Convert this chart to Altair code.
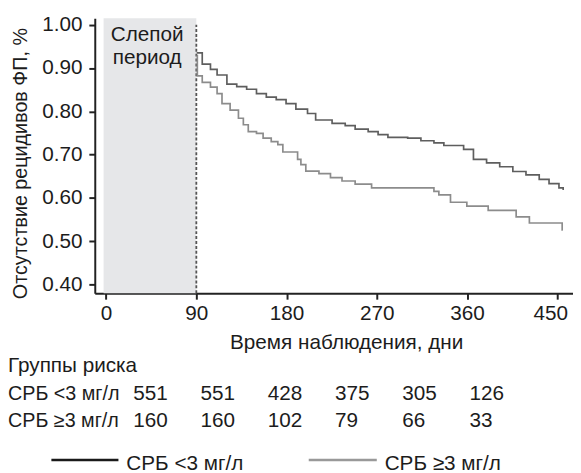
import altair as alt
import pandas as pd

# ---------------- data ----------------
upper_days = [90.3, 91.0, 95.9, 104.1, 110.7, 120.5, 130.3, 140.2, 150.0, 159.8, 169.7,
              179.5, 189.3, 200.9, 209.0, 225.4, 238.5, 248.4, 261.4, 271.3, 281.1,
              300.8, 314.0, 327.0, 336.9, 346.7, 356.6, 366.4, 379.5, 392.6, 405.7,
              418.8, 432.0, 441.8, 451.7, 455.9]
upper_vals = [0.935, 0.935, 0.909, 0.897, 0.884, 0.863, 0.857, 0.851, 0.841, 0.833, 0.827,
              0.818, 0.805, 0.795, 0.780, 0.772, 0.767, 0.759, 0.753, 0.746, 0.740,
              0.738, 0.732, 0.727, 0.721, 0.721, 0.712, 0.689, 0.681, 0.672, 0.661,
              0.653, 0.643, 0.633, 0.623, 0.618]

lower_days = [90.3, 91.0, 95.9, 104.1, 110.7, 115.6, 123.7, 132.0, 136.9, 141.8, 150.0,
              156.6, 164.7, 171.3, 176.3, 191.0, 194.3, 199.2, 212.3, 223.8, 235.3,
              248.4, 264.8, 327.0, 331.9, 343.5, 359.8, 381.1, 409.0, 422.2, 454.9, 455.6]
lower_vals = [0.929, 0.882, 0.867, 0.856, 0.841, 0.818, 0.803, 0.784, 0.769, 0.753, 0.749,
              0.738, 0.730, 0.723, 0.706, 0.689, 0.677, 0.662, 0.656, 0.647, 0.639,
              0.632, 0.623, 0.615, 0.607, 0.590, 0.581, 0.571, 0.556, 0.542, 0.526, 0.526]

groups = ["СРБ <3 мг/л", "СРБ ≥3 мг/л"]
risk_lt3 = [551, 551, 428, 375, 305, 126]
risk_ge3 = [160, 160, 102, 79, 66, 33]
x_ticks = [0, 90, 180, 270, 360, 450]
y_ticks = [0.4, 0.5, 0.6, 0.7, 0.8, 0.9, 1.0]
blind_start, blind_end = -2.5, 90
blind_label = ["Слепой", "период"]

# ---------------- layout / style ----------------
FONT = "Liberation Sans"
FS = 21
TXT = "#1c1c1c"
W, H = 485, 279
XDOM = [-11.3, 465.7]
YDOM = [0.3797, 1.0153]

xs = alt.Scale(domain=XDOM, nice=False, zero=False)
ys = alt.Scale(domain=YDOM, nice=False, zero=False)

x_axis = alt.Axis(values=x_ticks, title="Время наблюдения, дни", format="d",
                  titleX=255, titleY=50, titleAlign="center", titleBaseline="middle",
                  labelPadding=4, grid=False,
                  labelOffset={"condition": {"test": "datum.value == 450", "value": -7},
                               "value": 0})
y_axis = alt.Axis(values=y_ticks, title="Отсутствие рецидивов ФП, %", format=".2f",
                  titleX=-75, titleY=147, titleAngle=-90, titleAlign="center",
                  titleBaseline="middle", titleFontSize=20, labelPadding=7, grid=False)

shade_df = pd.DataFrame({"x0": [blind_start], "x1": [blind_end],
                         "y0": [YDOM[0]], "y1": [YDOM[1]]})
shade = alt.Chart(shade_df).mark_rect(color="#e6e7e9").encode(
    x=alt.X("x0:Q", scale=xs, axis=x_axis),
    x2="x1:Q",
    y=alt.Y("y0:Q", scale=ys, axis=y_axis),
    y2="y1:Q",
)

dash_df = pd.DataFrame({"x": [blind_end], "y0": [YDOM[0]], "y1": [1.0]})
dashed = alt.Chart(dash_df).mark_rule(color="#555555", strokeWidth=1.8,
                                      strokeDash=[3, 2]).encode(
    x=alt.X("x:Q", scale=xs), y=alt.Y("y0:Q", scale=ys), y2="y1:Q")

curves = pd.concat([
    pd.DataFrame({"day": upper_days, "surv": upper_vals, "grp": groups[0]}),
    pd.DataFrame({"day": lower_days, "surv": lower_vals, "grp": groups[1]}),
])
lines = alt.Chart(curves).mark_line(interpolate="step-after", strokeWidth=1.7).encode(
    x=alt.X("day:Q", scale=xs),
    y=alt.Y("surv:Q", scale=ys),
    color=alt.Color("grp:N", scale=alt.Scale(domain=groups, range=["#5e5e5e", "#8c8c8c"]),
                    legend=None),
    order="day:Q",
)

lab_df = pd.DataFrame({"x": [41], "y": [0.977]})
blind_text = alt.Chart(lab_df).mark_text(text=blind_label, font=FONT, fontSize=FS,
                                         color=TXT, lineHeight=24, align="center",
                                         baseline="middle").encode(
    x=alt.X("x:Q", scale=xs), y=alt.Y("y:Q", scale=ys))

main = alt.layer(shade, dashed, lines, blind_text)

# ---------------- risk table & legend ----------------
col_scale = alt.Scale(domain=[0, 5], range=[39, 380], nice=False, zero=False)
rows = [(risk_lt3, 381), (risk_ge3, 409)]
table_layers = []
table_layers.append(
    alt.Chart(alt.Data(values=[{"t": "Группы риска"}])).mark_text(
        font=FONT, fontSize=FS, color=TXT, align="left", baseline="middle").encode(
        x=alt.value(-88), y=alt.value(353), text="t:N"))
for (vals, ypix), g in zip(rows, groups):
    df = pd.DataFrame({"col": list(range(len(vals))), "n": vals})
    table_layers.append(
        alt.Chart(df).mark_text(font=FONT, fontSize=FS, color=TXT, align="left",
                                baseline="middle").encode(
            x=alt.X("col:Q", scale=col_scale, axis=None),
            y=alt.value(ypix), text="n:Q"))
    table_layers.append(
        alt.Chart(alt.Data(values=[{"t": g}])).mark_text(
            font=FONT, fontSize=20, color=TXT, align="left", baseline="middle").encode(
            x=alt.value(-88), y=alt.value(ypix), text="t:N"))

legend_items = [(groups[0], "#1a1a1a", -44, 24), (groups[1], "#999999", 217, 286)]
for g, c, x0, x1 in legend_items:
    table_layers.append(
        alt.Chart(alt.Data(values=[{"t": g}])).mark_rule(color=c, strokeWidth=2.5).encode(
            x=alt.value(x0), x2=alt.value(x1), y=alt.value(448)))
    table_layers.append(
        alt.Chart(alt.Data(values=[{"t": g}])).mark_text(
            font=FONT, fontSize=FS, color=TXT, align="left", baseline="middle").encode(
            x=alt.value(x1 + 8), y=alt.value(452), text="t:N"))

table = alt.layer(*table_layers)

chart = alt.layer(main, table).resolve_scale(x="independent").properties(
    width=W, height=H,
    autosize=alt.AutoSizeParams(type="none"),
    padding={"left": 88, "top": 7, "right": 0, "bottom": 179},
).configure_view(stroke=None).configure_axis(
    labelFont=FONT, labelFontSize=FS, labelColor=TXT,
    titleFont=FONT, titleFontSize=FS, titleColor=TXT, titleFontWeight="normal",
    domainColor="#222222", domainWidth=2, tickColor="#222222", tickWidth=2, tickSize=6,
    zindex=1,
)

chart.save("out.html", embed_options={"renderer": "svg", "actions": False})
